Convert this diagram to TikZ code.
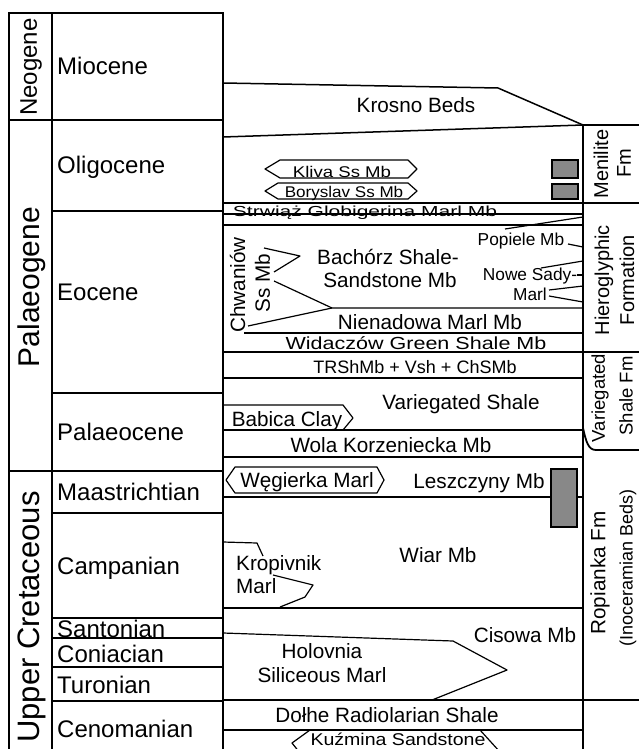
\documentclass[tikz,border=0pt]{standalone}
\usepackage{fontspec}
\setmainfont{Liberation Sans}
\usepackage{xcolor}
\definecolor{shalegrey}{RGB}{136,136,136}

\begin{document}
\begin{tikzpicture}[x=1pt, y=-1pt,
    frame/.style={line width=1.8pt},
    bed/.style={line width=1.2pt, line join=round},
    greybox/.style={draw, line width=1.3pt, fill=shalegrey},
    period/.style={font=\fontsize{31}{31}\selectfont, rotate=90, inner sep=0pt},
    epoch/.style={font=\fontsize{24}{24}\selectfont, anchor=base west, inner sep=0pt},
    unit/.style={font=\fontsize{20.7}{24}\selectfont, anchor=base, inner sep=0pt},
    minor/.style={font=\fontsize{17.3}{20}\selectfont, anchor=base, inner sep=0pt},
    formation/.style={font=\fontsize{20}{20}\selectfont, rotate=90, inner sep=0pt}]

    \useasboundingbox (0,0) rectangle (639,749);
    \clip (0,0) rectangle (639,749);

    % --- Periods and epochs ---
    \draw[frame] (9,749) -- (9,13) -- (223,13) -- (223,749);
    \draw[frame] (52,13) -- (52,749);
    \draw[frame] (9,120) -- (223,120);
    \draw[frame] (9,471) -- (223,471);
    \foreach \yb in {211,393,513,618,638,667,701}
        \draw[frame] (52,\yb) -- (223,\yb);

    \node[period] (neogene) at (31,67) {\fontsize{24}{24}\selectfont Neogene};
    \node[period] (palaeogene) at (32,287) {\fontsize{30}{30}\selectfont Palaeogene};
    \node[period] (uppercret) at (32,617) {Upper Cretaceous};

    \node[epoch] (miocene) at (57,75) {Miocene};
    \node[epoch] (oligocene) at (57,173) {Oligocene};
    \node[epoch] (eocene) at (57,300) {Eocene};
    \node[epoch] (palaeocene) at (57,440) {Palaeocene};
    \node[epoch] (maastricht) at (57,500) {Maastrichtian};
    \node[epoch] (campanian) at (57,574) {Campanian};
    \node[epoch] (santonian) at (57,637) {Santonian};
    \node[epoch] (coniacian) at (57,662) {Coniacian};
    \node[epoch] (turonian) at (57,693) {Turonian};
    \node[epoch] (cenomanian) at (57,737) {Cenomanian};

    % --- Formation column ---
    \draw[frame] (583,749) -- (583,125) -- (639,125);
    \draw[frame] (223,203) -- (639,203);
    \draw[frame] (223,352) -- (639,352);
    \draw[frame] (223,700) -- (639,700);
    \draw[frame] (583,428) .. controls (586,441) and (588,450) .. (596,450) -- (639,450);

    \node[formation] (menilite) at (601,164) {Menilite};
    \node[formation] (menilitefm) at (624,163) {Fm};
    \node[formation] (hiero) at (604,280) {Hieroglyphic};
    \node[formation] (hieroform) at (627,280) {Formation};
    \node[formation, font=\fontsize{18.5}{18.5}\selectfont] (varieg) at (600,398) {Variegated};
    \node[formation, font=\fontsize{18.5}{18.5}\selectfont] (variegfm) at (626,396) {Shale Fm};
    \node[formation, font=\fontsize{20.7}{20.7}\selectfont] (ropianka) at (600,573) {Ropianka Fm};
    \node[formation, font=\fontsize{18}{18}\selectfont] (inoceram) at (628,568) {(Inoceramian Beds)};

    % --- Members: Oligocene and Miocene ---
    \draw[bed, line width=1.5pt] (223,83) -- (498,88) -- (583,125);
    \draw[bed, line width=1.5pt] (223,137) -- (583,125);
    \node[unit] (krosno) at (416,113) {Krosno Beds};

    \draw[bed] (280,160) -- (408,160) -- (417,169) -- (408,178) -- (280,178) -- (265,169) -- cycle;
    \draw[bed] (278,183) -- (408,183) -- (417,191) -- (408,199) -- (278,199) -- (265,191) -- cycle;
    \node[unit, font=\fontsize{15.5}{18}\selectfont, xscale=1.2, transform shape] (kliva) at (342,177) {Kliva Ss Mb};
    \node[unit, font=\fontsize{15.5}{18}\selectfont, xscale=1.1, transform shape] (boryslav) at (344,197) {Boryslav Ss Mb};
    \draw[greybox] (552,160) rectangle (578,178);
    \draw[greybox] (552,184) rectangle (578,199);

    % --- Members: Eocene ---
    \draw[bed] (223,214) -- (583,214);
    \draw[bed] (223,225) -- (583,225);
    \node[unit, font=\fontsize{14.5}{16}\selectfont, xscale=1.45, transform shape] (strwiaz) at (365,216) {Strwiąż Globigerina Marl Mb};

    \draw[bed] (505,229) -- (583,217);
    \draw[bed] (568,244) -- (583,247);
    \node[minor] (popiele) at (521,245) {Popiele Mb};

    \draw[bed] (541,268) -- (583,261);
    \draw[bed] (577,275) -- (583,275);
    \draw[bed] (549,290) -- (583,286);
    \draw[bed] (549,296) -- (583,302);
    \node[minor] (nowesady) at (530,280) {Nowe Sady-};
    \node[minor] (nowemarl) at (530,300) {Marl};

    \draw[bed] (264,248) -- (300,256) -- (274,272);
    \draw[bed] (274,281) -- (332,308);
    \draw[bed] (248,326) -- (332,308) -- (583,308);
    \node[formation, font=\fontsize{20.7}{20.7}\selectfont] (chwaniow) at (237.5,285) {Chwaniów};
    \node[formation, font=\fontsize{20.7}{20.7}\selectfont] (chwaniowmb) at (262.5,283) {Ss Mb};
    \node[unit] (bachorz) at (388,264) {Bachórz Shale-};
    \node[unit] (bachorzmb) at (390,287) {Sandstone Mb};

    \draw[bed] (244,333) -- (583,333);
    \node[unit] (nienadowa) at (430,329) {Nienadowa Marl Mb};
    \node[unit, font=\fontsize{17.5}{18}\selectfont, xscale=1.23, transform shape] (widaczow) at (416,349.5) {Widaczów Green Shale Mb};

    % --- Members: Palaeocene ---
    \draw[bed] (223,378) -- (583,378);
    \node[unit, font=\fontsize{18}{18}\selectfont] (trsh) at (415,373) {TRShMb + Vsh + ChSMb};
    \node[unit] (variegsh) at (461,409) {Variegated Shale};

    \draw[bed] (223,405) -- (343,405) -- (353,418) -- (343,430);
    \draw[bed] (223,430) -- (583,430);
    \node[unit] (babica) at (287,426) {Babica Clay};

    \draw[bed] (223,457) -- (583,457);
    \node[unit] (wola) at (391,452) {Wola Korzeniecka Mb};

    % --- Members: Upper Cretaceous ---
    \draw[bed] (235,467) -- (377,467) -- (384,480) -- (377,493) -- (235,493) -- (226,480) -- cycle;
    \node[unit] (wegierka) at (307,487) {Węgierka Marl};
    \node[unit] (leszczyny) at (479,488) {Leszczyny Mb};
    \draw[bed] (223,497) -- (583,497);
    \draw[greybox] (551,469) rectangle (577,527);

    \node[unit] (wiar) at (438,562) {Wiar Mb};
    \draw[bed] (223,542) -- (257,543) -- (263,556);
    \draw[bed] (273,575) -- (313,585) -- (305,597) -- (280,607);
    \node[unit, anchor=base west] (kropivnik) at (236,570) {Kropivnik};
    \node[unit, anchor=base west] (kropmarl) at (236,593) {Marl};
    \draw[bed] (223,608) -- (583,608);

    \draw[bed] (223,633) -- (453,641) -- (507,670) -- (432,700);
    \node[unit] (cisowa) at (525,642) {Cisowa Mb};
    \node[unit] (holovnia) at (322,658) {Holovnia};
    \node[unit] (holovniamarl) at (322,682) {Siliceous Marl};

    \node[unit] (dolhe) at (387,722) {Dołhe Radiolarian Shale};
    \draw[bed] (223,730) -- (583,730);
    \draw[bed] (300,753) -- (292,743) -- (310,730);
    \draw[bed] (480,730) -- (500,752);
    \node[unit, font=\fontsize{17}{18}\selectfont, xscale=1.15, transform shape] (kuzmina) at (398,745) {Kuźmina Sandstone};
\end{tikzpicture}
\end{document}
